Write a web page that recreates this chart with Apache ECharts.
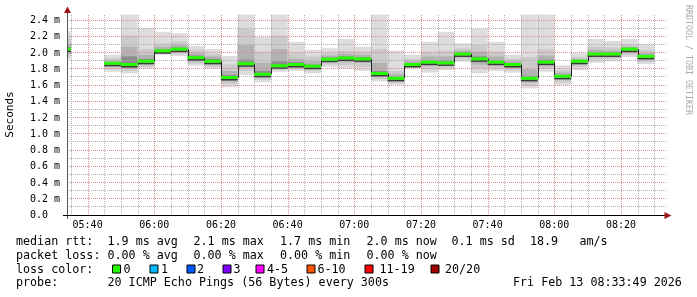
<!DOCTYPE html>
<html><head><meta charset="utf-8">
<script src="https://cdn.jsdelivr.net/npm/echarts@6/dist/echarts.min.js"></script>
<style>html,body{margin:0;padding:0;background:#fff}#c{width:697px;height:297px}</style>
</head><body><div id="c"></div>
<script>
// ---- data (5-minute slots, end time of each slot) ----
const slotEnd = ['05:35','05:50','05:55','06:00','06:05','06:10','06:15','06:20','06:25','06:30','06:35','06:40','06:45','06:50','06:55','07:00','07:05','07:10','07:15','07:20','07:25','07:30','07:35','07:40','07:45','07:50','07:55','08:00','08:05','08:10','08:15','08:20','08:25','08:30'];
// median rtt (ms)
const median = [2.05,1.875,1.86,1.90,2.03,2.05,1.945,1.90,1.70,1.87,1.74,1.845,1.86,1.84,1.925,1.94,1.93,1.75,1.69,1.86,1.89,1.88,1.99,1.93,1.89,1.86,1.69,1.89,1.715,1.90,1.99,1.99,2.05,1.96];
// smoke: ping distribution levels (ms)
const pMax = [2.27,1.98,2.50,2.31,2.26,2.245,2.09,2.05,1.965,2.50,2.20,2.50,2.14,2.04,2.06,2.175,2.08,2.50,2.03,1.98,2.14,2.26,2.12,2.30,2.14,1.98,2.50,2.50,1.85,2.00,2.175,2.15,2.175,2.11];
const pU1  = [2.19,1.94,2.22,2.05,2.12,2.14,2.04,1.99,1.86,2.30,2.02,2.22,2.00,1.96,2.00,2.03,2.02,2.05,1.78,1.93,2.02,2.03,2.06,2.10,2.02,1.93,1.95,2.05,1.79,1.95,2.08,2.07,2.11,2.04];
const pU2  = [2.12,1.91,2.08,1.98,2.08,2.10,2.00,1.96,1.78,2.10,1.88,2.05,1.93,1.90,1.97,1.99,1.98,1.88,1.74,1.90,1.96,1.96,2.03,2.02,1.96,1.90,1.80,1.97,1.76,1.93,2.04,2.03,2.08,2.00];
const pU3  = [2.08,1.89,1.96,1.93,2.05,2.07,1.97,1.93,1.73,1.92,1.78,1.90,1.89,1.86,1.945,1.96,1.95,1.78,1.71,1.875,1.91,1.91,2.01,1.96,1.91,1.88,1.72,1.92,1.73,1.915,2.01,2.01,2.065,1.98];
const pL3  = [2.02,1.855,1.84,1.88,2.01,2.03,1.925,1.88,1.68,1.85,1.72,1.83,1.845,1.82,1.91,1.92,1.91,1.73,1.67,1.85,1.87,1.86,1.97,1.90,1.87,1.84,1.67,1.87,1.70,1.88,1.97,1.97,2.03,1.94];
const pL2  = [1.99,1.83,1.81,1.86,2.00,2.01,1.90,1.86,1.65,1.82,1.70,1.81,1.83,1.80,1.89,1.89,1.88,1.71,1.65,1.84,1.84,1.84,1.95,1.86,1.84,1.82,1.64,1.84,1.67,1.86,1.95,1.95,2.00,1.92];
const pL1  = [1.96,1.80,1.78,1.83,1.99,1.99,1.87,1.83,1.62,1.78,1.67,1.79,1.80,1.78,1.86,1.85,1.83,1.68,1.63,1.83,1.80,1.82,1.92,1.81,1.81,1.79,1.60,1.81,1.64,1.83,1.92,1.93,1.98,1.89];
const pMin = [1.93,1.77,1.75,1.81,1.98,1.965,1.845,1.81,1.58,1.73,1.64,1.77,1.78,1.75,1.83,1.81,1.78,1.65,1.61,1.82,1.76,1.79,1.895,1.75,1.78,1.76,1.565,1.77,1.61,1.79,1.88,1.90,1.95,1.865];
// axis ticks
const xTickLabels = ['05:40','06:00','06:20','06:40','07:00','07:20','07:40','08:00','08:20'];
const yTickValues = [0,0.2,0.4,0.6,0.8,1.0,1.2,1.4,1.6,1.8,2.0,2.2,2.4];
const rangeStart = '05:33:49', rangeSeconds = 10800, STEP = 300;
const yMax = 2.476;

// ---- helpers ----
function toSec(s){const p=s.split(':').map(Number);return p[0]*3600+p[1]*60+(p[2]||0);}
function fmtT(v){const h=Math.floor(v/3600),m=Math.round((v%3600)/60);return String(h).padStart(2,'0')+':'+String(m).padStart(2,'0');}
const T0 = toSec(rangeStart), T1 = T0 + rangeSeconds;
const times = slotEnd.map(toSec);
const FONT = '"DejaVu Sans Mono", monospace';

// grid line definitions: [orientation(0=vertical,1=horizontal), value, major]
const gridData = [];
for (let t = toSec('05:35'); t < T1; t += STEP) gridData.push([0, t, ((t - toSec('05:40')) % 1200 === 0) ? 1 : 0]);
for (let k = 1; k <= 24; k++) gridData.push([1, k/10, k % 2 === 0 ? 1 : 0]);

const smokeColors = ['#dddddd','#cbcbcb','#b2b2b2','#8c8c8c'];

function slotX(api, cs, i){
  let x0 = api.coord([times[i]-STEP, 0])[0], x1 = api.coord([times[i], 0])[0];
  return [Math.max(x0, cs.x), Math.min(x1, cs.x + cs.width)];
}
function clampY(api, cs, v){
  const y = api.coord([T0, v])[1];
  return Math.max(cs.y, Math.min(cs.y + cs.height, y));
}

const chart = echarts.init(document.getElementById('c'), null, {renderer:'canvas'});
const option = {
  animation:false,
  backgroundColor:'#ffffff',
  grid:{left:67, top:14.5, width:600, height:201},
  xAxis:{type:'value', min:T0, max:T1,
    axisLine:{show:false}, axisTick:{show:false}, splitLine:{show:false},
    axisLabel:{customValues: xTickLabels.map(toSec), formatter: v => fmtT(v),
      fontFamily:FONT, fontSize:10, color:'#000', margin:5}},
  yAxis:{type:'value', min:0, max:yMax,
    axisLine:{show:false}, axisTick:{show:false}, splitLine:{show:false},
    axisLabel:{customValues: yTickValues, formatter: v => v === 0 ? '0.0  ' : v.toFixed(1) + ' m',
      fontFamily:FONT, fontSize:10, color:'#000', margin:7}},
  series:[
    { type:'custom', z:2, silent:true,
      data: times.map((t,i)=>[t, median[i]]),
      renderItem:(params, api)=>{
        const i = params.dataIndex, cs = params.coordSys;
        const [x0,x1] = slotX(api, cs, i);
        const lv = [[pMin[i],pMax[i]],[pL1[i],pU1[i]],[pL2[i],pU2[i]],[pL3[i],pU3[i]]];
        return {type:'group', children: lv.map((p,k)=>{
          const yt = clampY(api, cs, p[1]), yb = clampY(api, cs, p[0]);
          return {type:'rect', shape:{x:x0, y:yt, width:x1-x0, height:yb-yt}, style:{fill:smokeColors[k]}};
        })};
      }},
    { type:'custom', z:3, silent:true,
      data: gridData,
      encode:{x:1, y:1},
      renderItem:(params, api)=>{
        const cs = params.coordSys;
        const o = api.value(0), v = api.value(1), major = api.value(2);
        const style = {stroke: major ? '#d88e8e' : '#aeaeae', lineWidth:1, lineDash:[1,1]};
        if (o === 0) {
          const x = Math.round(api.coord([v, 0])[0]) + 0.5;
          return {type:'line', shape:{x1:x, y1:Math.round(cs.y), x2:x, y2:Math.round(cs.y+cs.height)}, style};
        }
        const y = Math.round(api.coord([T0, v])[1]) - 0.5;
        return {type:'line', shape:{x1:Math.round(cs.x), y1:y, x2:Math.round(cs.x+cs.width), y2:y}, style};
      }},
    { type:'custom', z:4, silent:true,
      data: times.map((t,i)=>[t, median[i]]),
      renderItem:(params, api)=>{
        const i = params.dataIndex, cs = params.coordSys;
        const [x0,x1] = slotX(api, cs, i);
        const y = api.coord([T0, median[i]])[1];
        const ch = [{type:'rect', shape:{x:x0, y:y+1.5, width:x1-x0, height:1.5}, style:{fill:'#3a3a3a'}}];
        if (i + 1 < times.length && times[i+1] - times[i] === STEP) {
          const yn = api.coord([T0, median[i+1]])[1];
          const xv = Math.round(x1) + 0.5;
          ch.push({type:'line', shape:{x1:xv, y1:y, x2:xv, y2:yn}, style:{stroke:'#202020', lineWidth:1}});
        }
        ch.push({type:'rect', shape:{x:x0, y:y-1.5, width:x1-x0, height:3}, style:{fill:'#26ff00'}});
        return {type:'group', children:ch};
      }}
  ],
  graphic:[
    {type:'line', shape:{x1:67.5, y1:12, x2:67.5, y2:219}, style:{stroke:'#555', lineWidth:1}, z:50},
    {type:'line', shape:{x1:63, y1:215.5, x2:669, y2:215.5}, style:{stroke:'#000', lineWidth:1}, z:50},
    {type:'polygon', shape:{points:[[664.5,212],[671.5,215.5],[664.5,219]]}, style:{fill:'#a01818'}, z:51},
    {type:'polygon', shape:{points:[[64,13],[67.5,6.5],[71,13]]}, style:{fill:'#a01818'}, z:51},
    {type:'text', x:10, y:114.5, rotation:Math.PI/2, style:{text:'Seconds', font:'11px '+FONT, fill:'#000', align:'center', verticalAlign:'middle'}},
    {type:'text', x:688.5, y:60, rotation:-Math.PI/2, style:{text:'RRDTOOL / TOBI OETIKER', font:'8.3px '+FONT, fill:'#aaaaaa', align:'center', verticalAlign:'middle'}}
  ]
};

// legend rows
const LF = '11.7px ' + FONT;
function txt(x, y, s){ option.graphic.push({type:'text', x, y, style:{text:s, font:LF, fill:'#000', align:'left', verticalAlign:'middle'}}); }
const r1 = 242, r2 = 255.5, r3 = 269.5, r4 = 283;
txt(16, r1, 'median rtt:');
txt(107.5, r1, '1.9 ms avg'); txt(193.5, r1, '2.1 ms max'); txt(280, r1, '1.7 ms min');
txt(366.5, r1, '2.0 ms now'); txt(451.5, r1, '0.1 ms sd'); txt(530, r1, '18.9'); txt(579.5, r1, 'am/s');
txt(16, r2, 'packet loss:');
txt(107.5, r2, '0.00 % avg'); txt(193.5, r2, '0.00 % max'); txt(280, r2, '0.00 % min'); txt(366.5, r2, '0.00 % now');
txt(16, r3, 'loss color:');
const lossLabels = ['0','1','2','3','4-5','6-10','11-19','20/20'];
const lossColors = ['#26ff00','#00b8ff','#0059ff','#7e00ff','#ff00ff','#ff5500','#ff0000','#a00000'];
const boxX = [112,149.5,186.5,222.5,255.5,306.5,364.5,430.5];
const labX = [123.5,161,197,233.5,267,317.5,379.5,445];
lossLabels.forEach((l,k)=>{
  option.graphic.push({type:'rect', shape:{x:boxX[k]+0.5, y:r3-4.5, width:8, height:8}, style:{fill:lossColors[k], stroke:'#000', lineWidth:1}});
  txt(labX[k], r3, l);
});
txt(16, r4, 'probe:');
txt(107.5, r4, '20 ICMP Echo Pings (56 Bytes) every 300s');
txt(513, r4, 'Fri Feb 13 08:33:49 2026');

chart.setOption(option);
</script></body></html>
